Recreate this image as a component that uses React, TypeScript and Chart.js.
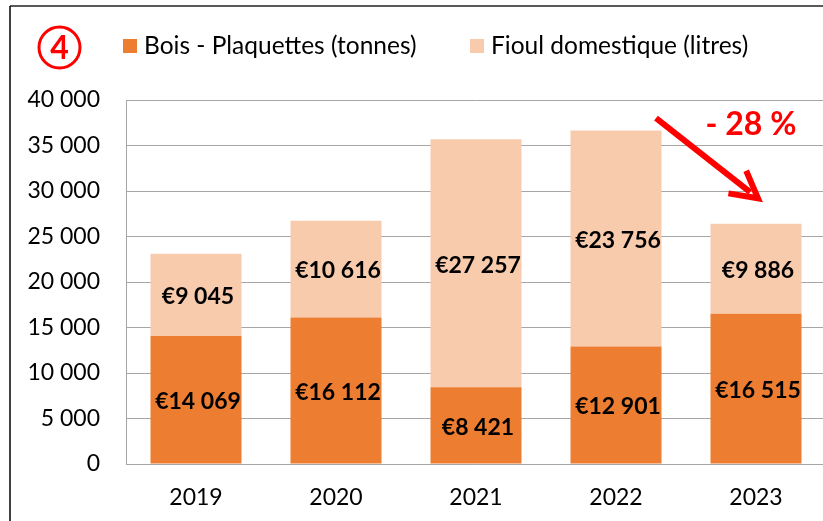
import React, { useEffect, useRef } from "react";
import { Chart, registerables } from "chart.js";

Chart.register(...registerables);

const years = ["2019", "2020", "2021", "2022", "2023"];
const boisValues = [14069, 16112, 8421, 12901, 16515];
const fioulValues = [9045, 10616, 27257, 23756, 9886];
const seriesNames = ["Bois - Plaquettes (tonnes)", "Fioul domestique (litres)"];
const seriesColors = ["#ED7D31", "#F8CBAD"];
const yTicks = { min: 0, max: 40000, step: 5000 };
const badgeText = "4";
const changeText = "- 28 %";

const FONT = "Lato, 'Open Sans', sans-serif";
const fmt = (v: number) => String(Math.round(v)).replace(/\B(?=(\d{3})+(?!\d))/g, " ");

const W = 826;
const H = 521;

const decorPlugin = {
  id: "decor",
  beforeDraw(chart: any) {
    const ctx = chart.ctx;
    ctx.save();
    ctx.fillStyle = "#ffffff";
    ctx.fillRect(0, 0, chart.width, chart.height);
    ctx.restore();
  },
  afterDatasetsDraw(chart: any) {
    const ctx = chart.ctx;
    ctx.save();
    // data labels
    ctx.font = `bold 23px ${FONT}`;
    ctx.fillStyle = "#000000";
    ctx.textAlign = "center";
    ctx.textBaseline = "middle";
    chart.data.datasets.forEach((ds: any, di: number) => {
      const meta = chart.getDatasetMeta(di);
      meta.data.forEach((bar: any, i: number) => {
        const cy = (bar.y + bar.base) / 2 + 2;
        ctx.fillText("€" + fmt(ds.data[i]), bar.x + 2, cy);
      });
    });

    // border lines
    ctx.strokeStyle = "#595959";
    ctx.lineWidth = 2;
    ctx.beginPath();
    ctx.moveTo(10, 6);
    ctx.lineTo(chart.width, 6);
    ctx.stroke();
    ctx.strokeStyle = "#000000";
    ctx.lineWidth = 1.5;
    ctx.beginPath();
    ctx.moveTo(10, 6);
    ctx.lineTo(10, chart.height);
    ctx.stroke();

    // circled number
    ctx.strokeStyle = "#FF0000";
    ctx.lineWidth = 3;
    ctx.beginPath();
    ctx.arc(59.5, 47.5, 20.5, 0, Math.PI * 2);
    ctx.stroke();
    ctx.fillStyle = "#FF0000";
    ctx.font = `bold 32px ${FONT}`;
    ctx.textAlign = "center";
    ctx.textBaseline = "middle";
    ctx.fillText(badgeText, 59.5, 49);

    // legend
    ctx.font = `24.5px ${FONT}`;
    ctx.textAlign = "left";
    ctx.textBaseline = "middle";
    const legendX = [123, 470];
    seriesNames.forEach((name, i) => {
      ctx.fillStyle = seriesColors[i];
      ctx.fillRect(legendX[i], 39, 14, 14);
      ctx.fillStyle = "#000000";
      ctx.fillText(name, legendX[i] + 21, 46);
    });

    // arrow annotation
    const xs = chart.scales.x;
    const ys = chart.scales.y;
    const x4 = xs.getPixelForValue(4);
    const x3 = xs.getPixelForValue(3);
    const sx = x3 + 40, sy = ys.getPixelForValue(38000);
    const ex = x4 + 2, ey = ys.getPixelForValue(29200);
    ctx.strokeStyle = "#FF0000";
    ctx.lineWidth = 6;
    ctx.lineCap = "butt";
    const ang = Math.atan2(ey - sy, ex - sx);
    const head = 30;
    ctx.beginPath();
    ctx.moveTo(sx, sy);
    ctx.lineTo(ex - Math.cos(ang) * 10, ey - Math.sin(ang) * 10);
    ctx.stroke();
    ctx.lineJoin = "miter";
    ctx.beginPath();
    ctx.moveTo(ex + Math.cos(ang + Math.PI - 0.5) * head, ey + Math.sin(ang + Math.PI - 0.5) * head);
    ctx.lineTo(ex, ey);
    ctx.lineTo(ex + Math.cos(ang + Math.PI + 0.5) * head, ey + Math.sin(ang + Math.PI + 0.5) * head);
    ctx.stroke();

    ctx.fillStyle = "#FF0000";
    ctx.font = `bold 32px ${FONT}`;
    ctx.textAlign = "center";
    ctx.textBaseline = "middle";
    ctx.fillText(changeText, x4 - 5, ys.getPixelForValue(37300));
    ctx.restore();
  },
};

export default function App() {
  const ref = useRef<HTMLCanvasElement | null>(null);
  useEffect(() => {
    document.body.style.margin = "0";
    const canvas = ref.current!;
    const chart = new Chart(canvas, {
      type: "bar",
      data: {
        labels: years,
        datasets: [
          { label: seriesNames[0], data: boisValues, backgroundColor: seriesColors[0], borderWidth: 0 },
          { label: seriesNames[1], data: fioulValues, backgroundColor: seriesColors[1], borderWidth: 0 },
        ],
      },
      options: {
        responsive: false,
        animation: false,
        devicePixelRatio: 1,
        layout: { padding: { left: 0, top: 100, right: 0, bottom: 0 } },
        plugins: { legend: { display: false }, tooltip: { enabled: false } },
        datasets: { bar: { categoryPercentage: 1, barPercentage: 0.65 } },
        scales: {
          x: {
            stacked: true,
            grid: { display: false, drawTicks: false },
            border: { display: true, color: "#A6A6A6", width: 1 },
            ticks: { color: "#000000", font: { family: FONT, size: 23 }, padding: 20 },
            afterFit: (s: any) => { s.height = 57; },
          },
          y: {
            stacked: true,
            min: yTicks.min,
            max: yTicks.max,
            grid: { color: "#A6A6A6", lineWidth: 1, drawTicks: false },
            border: { display: true, color: "#A6A6A6", width: 1 },
            ticks: {
              stepSize: yTicks.step,
              color: "#000000",
              font: { family: FONT, size: 23 },
              padding: 26,
              callback: (v: any) => fmt(Number(v)),
            },
            afterFit: (s: any) => { s.width = 126; },
          },
        },
      },
      plugins: [decorPlugin],
    });
    return () => chart.destroy();
  }, []);
  return (
    <div style={{ position: "fixed", left: 0, top: 0, width: 823, height: 521, overflow: "hidden", background: "#fff" }}>
      <canvas ref={ref} width={W} height={H} style={{ display: "block", width: W, height: H }} />
    </div>
  );
}
